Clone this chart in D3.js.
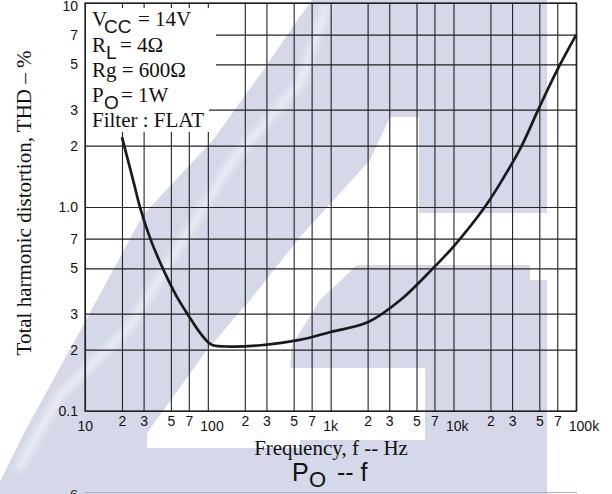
<!DOCTYPE html>
<html>
<head>
<meta charset="utf-8">
<script src="https://cdn.jsdelivr.net/npm/d3@7"></script>
<style>
  body { margin: 0; background: #fff; }
  svg { display: block; }
  .serif { font-family: "Liberation Serif", "Times New Roman", serif; }
  .sans { font-family: "Liberation Sans", Arial, sans-serif; }
</style>
</head>
<body>
<div id="chart"></div>
<script>
// THD vs frequency
var freq = [20, 25, 28, 34, 43, 55, 68, 85, 100, 110, 150, 270, 560, 1000, 2000,
            3700, 6800, 10000, 18000, 25000, 36000, 49000, 70000, 100000];
var thd = [2.2, 1.31, 1.0, 0.7, 0.5, 0.37, 0.3, 0.245, 0.218, 0.21, 0.207, 0.21, 0.223, 0.244, 0.272,
           0.35, 0.5, 0.64, 1.0, 1.36, 2.0, 3.0, 4.7, 7.0];

var xTickVals = [10, 20, 30, 50, 70, 100, 200, 300, 500, 700, 1000, 2000, 3000, 5000, 7000,
                 10000, 20000, 30000, 50000, 70000, 100000];
var xTickText = ["10", "2", "3", "5", "7", "100", "2", "3", "5", "7", "1k", "2", "3", "5", "7",
                 "10k", "2", "3", "5", "7", "100k"];
var yTickVals = [0.1, 0.2, 0.3, 0.5, 0.7, 1, 2, 3, 5, 7, 10];
var yTickText = ["0.1", "2", "3", "5", "7", "1.0", "2", "3", "5", "7", "10"];

var svgWidth = 612;
var svgHeight = 494;
var plot = { left: 85, right: 576.3, top: 3, bottom: 411 };

var svg = d3.select("#chart")
  .append("svg")
  .attr("width", svgWidth)
  .attr("height", svgHeight);

var x = d3.scaleLog().domain([10, 100000]).range([plot.left, plot.right]);
var y = d3.scaleLog().domain([0.1, 10]).range([plot.bottom, plot.top]);

// background watermark (light logo shape behind the chart)
var wmColor = "#d4d8e8";
var wmShape = [[0,494],[0,482],[24,433],[80,331],[143,215],[213,140],[262,72],[296,22],[312,0],
               [547,0],[547,494]];
var wmHole = [[147,448],[300,448],[300,440],[425,440],[425,368],[290,368],[292,345],[320,300],
              [357,265],[530,265],[530,280],[547,280],[547,213],[419,213],[419,117],[390,117],
              [370,160],[300,237],[250,300],[207,350],[147,433]];
svg.append("defs").append("filter").attr("id", "soft")
  .append("feGaussianBlur").attr("stdDeviation", 3);
svg.append("polygon").attr("points", wmShape.join(" ")).attr("fill", wmColor);
svg.append("polygon").attr("points", wmHole.join(" ")).attr("fill", "#fff");
// soft highlight streak inside the band
svg.append("polyline")
  .attr("points", [[18,470],[60,395],[127,330],[233,160],[300,83],[327,5]].join(" "))
  .attr("fill", "none").attr("stroke", "#fff").attr("stroke-opacity", 0.5)
  .attr("stroke-width", 9).attr("filter", "url(#soft)");

// next chart's top border peeking in at the bottom
svg.append("line")
  .attr("x1", 85).attr("x2", 577).attr("y1", 492.5).attr("y2", 492.5)
  .attr("stroke", "#a9adba").attr("stroke-width", 1);
svg.append("text").attr("class", "sans")
  .attr("x", 78).attr("y", 500).attr("text-anchor", "end")
  .attr("font-size", 15).attr("fill", "#333").text("6");

// grid via axes
var gridColor = "#222";
var xAxis = svg.append("g")
  .attr("transform", `translate(0, ${plot.bottom})`)
  .call(d3.axisBottom(x).tickValues(xTickVals)
    .tickSize(-(plot.bottom - plot.top)).tickFormat((d, i) => xTickText[i]));
var yAxis = svg.append("g")
  .attr("transform", `translate(${plot.left}, 0)`)
  .call(d3.axisLeft(y).tickValues(yTickVals)
    .tickSize(-(plot.right - plot.left)).tickFormat((d, i) => yTickText[i]));

[xAxis, yAxis].forEach(function(ax) {
  ax.select(".domain").remove();
  ax.selectAll(".tick line").attr("stroke", gridColor).attr("stroke-width", 1.1);
  ax.selectAll(".tick text")
    .attr("class", "sans")
    .attr("font-family", null)
    .attr("font-size", 14)
    .attr("fill", "#111");
});

// decade labels sit lower and to the right
var isDecade = (d, i) => i % 5 === 0;
xAxis.selectAll(".tick text")
  .attr("y", (d, i) => isDecade(d, i) ? 20 : 15)
  .attr("dy", 0)
  .attr("text-anchor", (d, i) => isDecade(d, i) ? "start" : "middle")
  .attr("dx", (d, i) => isDecade(d, i) ? -8 : 0);
yAxis.selectAll(".tick text")
  .attr("x", -7)
  .attr("dy", (d, i) => i === yTickVals.length - 1 ? "0.55em" : "0.32em");

// conditions box covering the grid
svg.append("polygon")
  .attr("points", [[86,8],[216,8],[216,100],[209,100],[209,132],[86,132]].join(" "))
  .attr("fill", "#fff");

// plot border
svg.append("rect")
  .attr("x", plot.left).attr("y", plot.top)
  .attr("width", plot.right - plot.left).attr("height", plot.bottom - plot.top)
  .attr("fill", "none").attr("stroke", gridColor).attr("stroke-width", 1.3);

// THD curve
var lineGen = d3.line()
  .x((d, i) => x(freq[i]))
  .y((d, i) => y(thd[i]))
  .curve(d3.curveCatmullRom.alpha(0.5));
svg.append("path")
  .datum(freq)
  .attr("d", lineGen)
  .attr("fill", "none")
  .attr("stroke", "#1a1a1a")
  .attr("stroke-width", 2.7);

// condition text (main letter, subscript, rest placed at fixed x)
function condLine(yy, main, sub, subX, rest, restX) {
  var t = svg.append("text").attr("class", "serif").attr("font-size", 21).attr("fill", "#111")
    .attr("x", 92).attr("y", yy);
  t.append("tspan").text(main);
  if (sub) {
    t.append("tspan").attr("class", "sans").attr("font-size", 19)
      .attr("x", subX).attr("y", yy + 7).text(sub);
    t.append("tspan").attr("x", restX).attr("y", yy).text(rest);
  }
}
condLine(26, "V", "CC", 104, "= 14V", 138);
condLine(52, "R", "L", 106, "= 4Ω", 120);
condLine(77, "Rg = 600Ω");
condLine(102, "P", "O", 104, "= 1W", 121);
condLine(127, "Filter : FLAT");

// axis titles
svg.append("text").attr("class", "serif")
  .attr("x", 331).attr("y", 455).attr("text-anchor", "middle")
  .attr("font-size", 21).attr("fill", "#111")
  .text("Frequency, f -- Hz");
svg.append("text").attr("class", "serif")
  .attr("transform", "translate(31, 203) rotate(-90)")
  .attr("text-anchor", "middle")
  .attr("font-size", 21).attr("fill", "#111")
  .text("Total harmonic distortion, THD – %");

// chart title
var title = svg.append("text").attr("class", "sans")
  .attr("y", 481).attr("font-size", 25).attr("fill", "#111");
title.append("tspan").attr("x", 292).text("P");
title.append("tspan").attr("x", 309).attr("y", 487).attr("font-size", 22).text("O");
title.append("tspan").attr("x", 337).attr("y", 481).text("-- f");
</script>
</body>
</html>
